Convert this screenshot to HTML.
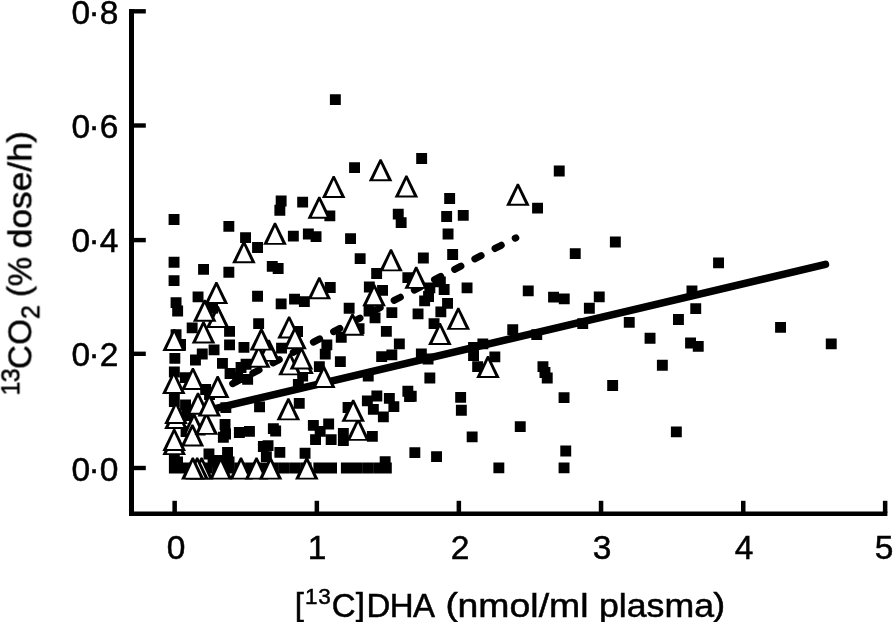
<!DOCTYPE html>
<html><head><meta charset="utf-8"><title>chart</title>
<style>
html,body{margin:0;padding:0;background:#fff;}
body{width:893px;height:622px;overflow:hidden;position:relative;font-family:"Liberation Sans",sans-serif;color:#000;}
svg{position:absolute;left:0;top:0;}
.t{position:absolute;white-space:nowrap;line-height:1;font-size:33.5px;will-change:transform;-webkit-text-stroke:0.5px #000;}
.yl{left:0;width:117.5px;text-align:right;letter-spacing:-0.8px;}
.xl{width:60px;text-align:center;}
sup,sub{font-size:22.5px;line-height:0;}
.br{font-size:30.5px;position:relative;top:-2.3px;display:inline-block;transform:scaleX(1.08);}
.dt{position:relative;left:-0.8px;top:-1px;}
</style></head><body>
<svg width="893" height="622" viewBox="0 0 893 622" shape-rendering="geometricPrecision">
<line x1="215" y1="408.6" x2="825.4" y2="264.4" stroke="#000" stroke-width="7.6" stroke-linecap="round"/>
<line x1="232.7" y1="383.6" x2="515.8" y2="237.8" stroke="#000" stroke-width="7" stroke-linecap="round" stroke-dasharray="7 15.7"/>
<path d="M168.6 214.1h10.9v10.9h-10.9zM223.4 220.9h10.9v10.9h-10.9zM240.1 232.2h10.9v10.9h-10.9zM252.1 242.0h10.9v10.9h-10.9zM275.7 195.6h10.9v10.9h-10.9zM274.4 204.8h10.9v10.9h-10.9zM297.2 196.7h10.9v10.9h-10.9zM287.9 230.7h10.9v10.9h-10.9zM302.9 228.6h10.9v10.9h-10.9zM168.6 256.8h10.9v10.9h-10.9zM168.6 275.2h10.9v10.9h-10.9zM198.1 263.9h10.9v10.9h-10.9zM223.4 266.8h10.9v10.9h-10.9zM266.8 260.9h10.9v10.9h-10.9zM272.7 263.1h10.9v10.9h-10.9zM192.6 291.4h10.9v10.9h-10.9zM252.1 290.8h10.9v10.9h-10.9zM289.1 293.7h10.9v10.9h-10.9zM329.9 94.2h10.9v10.9h-10.9zM349.1 162.2h10.9v10.9h-10.9zM416.2 153.0h10.9v10.9h-10.9zM553.8 165.6h10.9v10.9h-10.9zM532.1 202.7h10.9v10.9h-10.9zM457.8 209.9h10.9v10.9h-10.9zM609.9 236.6h10.9v10.9h-10.9zM569.8 248.2h10.9v10.9h-10.9zM713.1 257.4h10.9v10.9h-10.9zM461.6 282.4h10.9v10.9h-10.9zM522.8 285.4h10.9v10.9h-10.9zM548.1 291.7h10.9v10.9h-10.9zM558.8 293.4h10.9v10.9h-10.9zM593.8 291.4h10.9v10.9h-10.9zM686.5 285.6h10.9v10.9h-10.9zM324.4 210.4h10.9v10.9h-10.9zM392.8 208.7h10.9v10.9h-10.9zM395.7 217.2h10.9v10.9h-10.9zM444.2 193.0h10.9v10.9h-10.9zM441.2 211.1h10.9v10.9h-10.9zM442.6 228.5h10.9v10.9h-10.9zM447.2 249.1h10.9v10.9h-10.9zM310.6 231.2h10.9v10.9h-10.9zM345.1 233.2h10.9v10.9h-10.9zM354.7 253.2h10.9v10.9h-10.9zM417.9 252.6h10.9v10.9h-10.9zM371.2 268.1h10.9v10.9h-10.9zM402.4 272.2h10.9v10.9h-10.9zM324.8 282.1h10.9v10.9h-10.9zM363.9 281.6h10.9v10.9h-10.9zM377.1 284.9h10.9v10.9h-10.9zM438.7 284.1h10.9v10.9h-10.9zM424.4 282.4h10.9v10.9h-10.9zM434.9 276.4h10.9v10.9h-10.9zM423.1 291.1h10.9v10.9h-10.9zM170.6 297.2h10.9v10.9h-10.9zM172.2 305.6h10.9v10.9h-10.9zM275.7 298.4h10.9v10.9h-10.9zM298.9 296.2h10.9v10.9h-10.9zM253.2 318.2h10.9v10.9h-10.9zM186.7 322.4h10.9v10.9h-10.9zM224.1 325.9h10.9v10.9h-10.9zM170.6 329.2h10.9v10.9h-10.9zM224.1 339.4h10.9v10.9h-10.9zM238.5 341.9h10.9v10.9h-10.9zM208.6 344.4h10.9v10.9h-10.9zM196.8 348.6h10.9v10.9h-10.9zM190.0 354.6h10.9v10.9h-10.9zM169.4 352.9h10.9v10.9h-10.9zM217.0 357.9h10.9v10.9h-10.9zM276.1 342.7h10.9v10.9h-10.9zM224.6 368.1h10.9v10.9h-10.9zM235.6 362.1h10.9v10.9h-10.9zM240.6 358.8h10.9v10.9h-10.9zM242.2 373.9h10.9v10.9h-10.9zM232.2 372.2h10.9v10.9h-10.9zM168.9 366.6h10.9v10.9h-10.9zM175.1 339.1h10.9v10.9h-10.9zM179.9 372.2h10.9v10.9h-10.9zM200.2 384.1h10.9v10.9h-10.9zM168.9 391.6h10.9v10.9h-10.9zM204.1 389.1h10.9v10.9h-10.9zM292.1 326.1h10.9v10.9h-10.9zM297.2 370.6h10.9v10.9h-10.9zM292.9 378.9h10.9v10.9h-10.9zM343.7 302.8h10.9v10.9h-10.9zM386.4 307.2h10.9v10.9h-10.9zM369.6 312.4h10.9v10.9h-10.9zM363.6 305.6h10.9v10.9h-10.9zM412.6 308.4h10.9v10.9h-10.9zM419.2 295.4h10.9v10.9h-10.9zM442.1 297.9h10.9v10.9h-10.9zM435.4 306.4h10.9v10.9h-10.9zM428.6 318.2h10.9v10.9h-10.9zM380.9 325.9h10.9v10.9h-10.9zM393.9 338.4h10.9v10.9h-10.9zM335.8 331.8h10.9v10.9h-10.9zM353.6 323.2h10.9v10.9h-10.9zM321.4 339.4h10.9v10.9h-10.9zM319.8 348.7h10.9v10.9h-10.9zM334.9 356.2h10.9v10.9h-10.9zM376.2 351.2h10.9v10.9h-10.9zM386.4 349.4h10.9v10.9h-10.9zM415.9 348.6h10.9v10.9h-10.9zM422.6 353.6h10.9v10.9h-10.9zM313.9 361.2h10.9v10.9h-10.9zM362.8 370.6h10.9v10.9h-10.9zM424.4 372.6h10.9v10.9h-10.9zM402.4 385.8h10.9v10.9h-10.9zM405.8 390.8h10.9v10.9h-10.9zM168.9 396.2h10.9v10.9h-10.9zM254.1 401.4h10.9v10.9h-10.9zM293.8 397.9h10.9v10.9h-10.9zM220.4 402.2h10.9v10.9h-10.9zM219.6 419.1h10.9v10.9h-10.9zM217.9 431.8h10.9v10.9h-10.9zM233.9 427.1h10.9v10.9h-10.9zM244.0 425.9h10.9v10.9h-10.9zM270.2 425.6h10.9v10.9h-10.9zM267.9 423.2h10.9v10.9h-10.9zM257.9 441.1h10.9v10.9h-10.9zM262.6 440.2h10.9v10.9h-10.9zM222.1 446.9h10.9v10.9h-10.9zM203.5 448.6h10.9v10.9h-10.9zM274.4 446.9h10.9v10.9h-10.9zM260.9 451.2h10.9v10.9h-10.9zM299.6 447.8h10.9v10.9h-10.9zM168.9 453.1h10.9v10.9h-10.9zM172.1 456.6h10.9v10.9h-10.9zM180.1 399.6h10.9v10.9h-10.9zM181.6 410.1h10.9v10.9h-10.9zM180.6 426.1h10.9v10.9h-10.9zM207.6 456.1h10.9v10.9h-10.9zM213.6 455.1h10.9v10.9h-10.9zM223.6 456.6h10.9v10.9h-10.9zM220.1 428.6h10.9v10.9h-10.9zM168.9 462.6h10.9v10.9h-10.9zM179.6 462.6h10.9v10.9h-10.9zM190.6 462.6h10.9v10.9h-10.9zM201.6 462.6h10.9v10.9h-10.9zM212.6 462.6h10.9v10.9h-10.9zM223.6 462.6h10.9v10.9h-10.9zM234.6 462.6h10.9v10.9h-10.9zM245.6 462.6h10.9v10.9h-10.9zM256.6 462.6h10.9v10.9h-10.9zM267.6 462.6h10.9v10.9h-10.9zM278.6 462.6h10.9v10.9h-10.9zM289.6 462.6h10.9v10.9h-10.9zM300.6 462.6h10.9v10.9h-10.9zM313.4 462.6h10.9v10.9h-10.9zM320.6 462.6h10.9v10.9h-10.9zM326.1 462.6h10.9v10.9h-10.9zM340.9 462.6h10.9v10.9h-10.9zM351.6 462.6h10.9v10.9h-10.9zM362.6 462.6h10.9v10.9h-10.9zM373.6 462.6h10.9v10.9h-10.9zM380.9 462.6h10.9v10.9h-10.9zM361.9 395.4h10.9v10.9h-10.9zM371.4 390.6h10.9v10.9h-10.9zM342.6 402.1h10.9v10.9h-10.9zM367.9 403.9h10.9v10.9h-10.9zM377.9 411.4h10.9v10.9h-10.9zM388.4 401.2h10.9v10.9h-10.9zM383.9 392.9h10.9v10.9h-10.9zM404.1 391.2h10.9v10.9h-10.9zM307.9 419.9h10.9v10.9h-10.9zM323.2 418.6h10.9v10.9h-10.9zM314.7 425.9h10.9v10.9h-10.9zM310.1 434.2h10.9v10.9h-10.9zM325.7 434.2h10.9v10.9h-10.9zM337.9 428.1h10.9v10.9h-10.9zM337.9 435.1h10.9v10.9h-10.9zM366.9 430.9h10.9v10.9h-10.9zM409.4 447.2h10.9v10.9h-10.9zM431.1 451.2h10.9v10.9h-10.9zM379.7 456.2h10.9v10.9h-10.9zM507.3 324.2h10.9v10.9h-10.9zM477.4 338.4h10.9v10.9h-10.9zM468.1 341.9h10.9v10.9h-10.9zM468.1 350.2h10.9v10.9h-10.9zM489.4 351.4h10.9v10.9h-10.9zM472.2 361.2h10.9v10.9h-10.9zM531.3 329.2h10.9v10.9h-10.9zM577.3 318.2h10.9v10.9h-10.9zM583.9 302.8h10.9v10.9h-10.9zM537.5 361.2h10.9v10.9h-10.9zM539.5 367.1h10.9v10.9h-10.9zM541.8 372.6h10.9v10.9h-10.9zM558.6 392.2h10.9v10.9h-10.9zM455.2 391.9h10.9v10.9h-10.9zM455.9 404.8h10.9v10.9h-10.9zM466.7 431.4h10.9v10.9h-10.9zM514.8 421.2h10.9v10.9h-10.9zM560.3 445.6h10.9v10.9h-10.9zM558.6 462.4h10.9v10.9h-10.9zM493.4 462.4h10.9v10.9h-10.9zM690.3 303.2h10.9v10.9h-10.9zM673.0 314.1h10.9v10.9h-10.9zM623.8 316.9h10.9v10.9h-10.9zM644.6 332.8h10.9v10.9h-10.9zM685.1 337.6h10.9v10.9h-10.9zM692.8 340.9h10.9v10.9h-10.9zM656.9 359.8h10.9v10.9h-10.9zM607.2 380.1h10.9v10.9h-10.9zM775.1 321.9h10.9v10.9h-10.9zM825.8 338.4h10.9v10.9h-10.9zM670.9 426.4h10.9v10.9h-10.9z" fill="#000"/>
<polygon points="200.60,457.60 202.60,457.60 213.40,479.60 189.80,479.60" fill="#000"/><polygon points="201.60,461.80 209.00,477.70 194.20,477.70" fill="#fff"/>
<polygon points="196.20,457.60 198.20,457.60 209.00,479.60 185.40,479.60" fill="#000"/><polygon points="197.20,461.80 204.60,477.70 189.80,477.70" fill="#fff"/>
<polygon points="191.80,457.60 193.80,457.60 204.60,479.60 181.00,479.60" fill="#000"/><polygon points="192.80,461.80 200.20,477.70 185.40,477.70" fill="#fff"/>
<polygon points="219.70,457.60 221.70,457.60 232.50,479.60 208.90,479.60" fill="#000"/><polygon points="220.70,461.80 228.10,477.70 213.30,477.70" fill="#fff"/>
<polygon points="240.00,457.60 242.00,457.60 252.80,479.60 229.20,479.60" fill="#000"/><polygon points="241.00,461.80 248.40,477.70 233.60,477.70" fill="#fff"/>
<polygon points="255.50,457.60 257.50,457.60 268.30,479.60 244.70,479.60" fill="#000"/><polygon points="256.50,461.80 263.90,477.70 249.10,477.70" fill="#fff"/>
<polygon points="269.50,457.60 271.50,457.60 282.30,479.60 258.70,479.60" fill="#000"/><polygon points="270.50,461.80 277.90,477.70 263.10,477.70" fill="#fff"/>
<polygon points="305.80,457.60 307.80,457.60 318.60,479.60 295.00,479.60" fill="#000"/><polygon points="306.80,461.80 314.20,477.70 299.40,477.70" fill="#fff"/>
<polygon points="193.00,413.50 195.00,413.50 205.80,435.50 182.20,435.50" fill="#000"/><polygon points="194.00,417.70 201.40,433.60 186.60,433.60" fill="#fff"/>
<polygon points="173.20,433.10 175.20,433.10 186.00,455.10 162.40,455.10" fill="#000"/><polygon points="174.20,437.30 181.60,453.20 166.80,453.20" fill="#fff"/>
<polygon points="173.20,428.90 175.20,428.90 186.00,450.90 162.40,450.90" fill="#000"/><polygon points="174.20,433.10 181.60,449.00 166.80,449.00" fill="#fff"/>
<polygon points="191.40,424.50 193.40,424.50 204.20,446.50 180.60,446.50" fill="#000"/><polygon points="192.40,428.70 199.80,444.60 185.00,444.60" fill="#fff"/>
<polygon points="357.10,418.80 359.10,418.80 369.90,440.80 346.30,440.80" fill="#000"/><polygon points="358.10,423.00 365.50,438.90 350.70,438.90" fill="#fff"/>
<polygon points="197.00,392.70 199.00,392.70 209.80,414.70 186.20,414.70" fill="#000"/><polygon points="198.00,396.90 205.40,412.80 190.60,412.80" fill="#fff"/>
<polygon points="205.40,412.80 207.40,412.80 218.20,434.80 194.60,434.80" fill="#000"/><polygon points="206.40,417.00 213.80,432.90 199.00,432.90" fill="#fff"/>
<polygon points="175.00,406.90 177.00,406.90 187.80,428.90 164.20,428.90" fill="#000"/><polygon points="176.00,411.10 183.40,427.00 168.60,427.00" fill="#fff"/>
<polygon points="175.00,401.90 177.00,401.90 187.80,423.90 164.20,423.90" fill="#000"/><polygon points="176.00,406.10 183.40,422.00 168.60,422.00" fill="#fff"/>
<polygon points="352.20,399.70 354.20,399.70 365.00,421.70 341.40,421.70" fill="#000"/><polygon points="353.20,403.90 360.60,419.80 345.80,419.80" fill="#fff"/>
<polygon points="287.40,398.30 289.40,398.30 300.20,420.30 276.60,420.30" fill="#000"/><polygon points="288.40,402.50 295.80,418.40 281.00,418.40" fill="#fff"/>
<polygon points="208.30,394.40 210.30,394.40 221.10,416.40 197.50,416.40" fill="#000"/><polygon points="209.30,398.60 216.70,414.50 201.90,414.50" fill="#fff"/>
<polygon points="216.70,376.00 218.70,376.00 229.50,398.00 205.90,398.00" fill="#000"/><polygon points="217.70,380.20 225.10,396.10 210.30,396.10" fill="#fff"/>
<polygon points="172.80,371.90 174.80,371.90 185.60,393.90 162.00,393.90" fill="#000"/><polygon points="173.80,376.10 181.20,392.00 166.40,392.00" fill="#fff"/>
<polygon points="191.90,367.90 193.90,367.90 204.70,389.90 181.10,389.90" fill="#000"/><polygon points="192.90,372.10 200.30,388.00 185.50,388.00" fill="#fff"/>
<polygon points="322.80,366.00 324.80,366.00 335.60,388.00 312.00,388.00" fill="#000"/><polygon points="323.80,370.20 331.20,386.10 316.40,386.10" fill="#fff"/>
<polygon points="487.00,356.00 489.00,356.00 499.80,378.00 476.20,378.00" fill="#000"/><polygon points="488.00,360.20 495.40,376.10 480.60,376.10" fill="#fff"/>
<polygon points="301.00,352.00 303.00,352.00 313.80,374.00 290.20,374.00" fill="#000"/><polygon points="302.00,356.20 309.40,372.10 294.60,372.10" fill="#fff"/>
<polygon points="289.00,353.30 291.00,353.30 301.80,375.30 278.20,375.30" fill="#000"/><polygon points="290.00,357.50 297.40,373.40 282.60,373.40" fill="#fff"/>
<polygon points="300.40,347.40 302.40,347.40 313.20,369.40 289.60,369.40" fill="#000"/><polygon points="301.40,351.60 308.80,367.50 294.00,367.50" fill="#fff"/>
<polygon points="267.80,339.80 269.80,339.80 280.60,361.80 257.00,361.80" fill="#000"/><polygon points="268.80,344.00 276.20,359.90 261.40,359.90" fill="#fff"/>
<polygon points="257.70,345.70 259.70,345.70 270.50,367.70 246.90,367.70" fill="#000"/><polygon points="258.70,349.90 266.10,365.80 251.30,365.80" fill="#fff"/>
<polygon points="173.20,328.90 175.20,328.90 186.00,350.90 162.40,350.90" fill="#000"/><polygon points="174.20,333.10 181.60,349.00 166.80,349.00" fill="#fff"/>
<polygon points="260.40,328.60 262.40,328.60 273.20,350.60 249.60,350.60" fill="#000"/><polygon points="261.40,332.80 268.80,348.70 254.00,348.70" fill="#fff"/>
<polygon points="438.90,323.00 440.90,323.00 451.70,345.00 428.10,345.00" fill="#000"/><polygon points="439.90,327.20 447.30,343.10 432.50,343.10" fill="#fff"/>
<polygon points="202.50,321.50 204.50,321.50 215.30,343.50 191.70,343.50" fill="#000"/><polygon points="203.50,325.70 210.90,341.60 196.10,341.60" fill="#fff"/>
<polygon points="288.10,316.40 290.10,316.40 300.90,338.40 277.30,338.40" fill="#000"/><polygon points="289.10,320.60 296.50,336.50 281.70,336.50" fill="#fff"/>
<polygon points="294.00,327.20 296.00,327.20 306.80,349.20 283.20,349.20" fill="#000"/><polygon points="295.00,331.40 302.40,347.30 287.60,347.30" fill="#fff"/>
<polygon points="351.50,313.70 353.50,313.70 364.30,335.70 340.70,335.70" fill="#000"/><polygon points="352.50,317.90 359.90,333.80 345.10,333.80" fill="#fff"/>
<polygon points="457.30,307.80 459.30,307.80 470.10,329.80 446.50,329.80" fill="#000"/><polygon points="458.30,312.00 465.70,327.90 450.90,327.90" fill="#fff"/>
<polygon points="216.70,306.00 218.70,306.00 229.50,328.00 205.90,328.00" fill="#000"/><polygon points="217.70,310.20 225.10,326.10 210.30,326.10" fill="#fff"/>
<rect x="207.2" y="302.7" width="10.9" height="10.9" fill="#000"/>
<polygon points="203.70,299.70 205.70,299.70 216.50,321.70 192.90,321.70" fill="#000"/><polygon points="204.70,303.90 212.10,319.80 197.30,319.80" fill="#fff"/>
<polygon points="373.10,284.20 375.10,284.20 385.90,306.20 362.30,306.20" fill="#000"/><polygon points="374.10,288.40 381.50,304.30 366.70,304.30" fill="#fff"/>
<polygon points="215.40,282.00 217.40,282.00 228.20,304.00 204.60,304.00" fill="#000"/><polygon points="216.40,286.20 223.80,302.10 209.00,302.10" fill="#fff"/>
<polygon points="318.30,277.20 320.30,277.20 331.10,299.20 307.50,299.20" fill="#000"/><polygon points="319.30,281.40 326.70,297.30 311.90,297.30" fill="#fff"/>
<polygon points="415.20,266.80 417.20,266.80 428.00,288.80 404.40,288.80" fill="#000"/><polygon points="416.20,271.00 423.60,286.90 408.80,286.90" fill="#fff"/>
<polygon points="390.00,249.30 392.00,249.30 402.80,271.30 379.20,271.30" fill="#000"/><polygon points="391.00,253.50 398.40,269.40 383.60,269.40" fill="#fff"/>
<polygon points="242.90,241.20 244.90,241.20 255.70,263.20 232.10,263.20" fill="#000"/><polygon points="243.90,245.40 251.30,261.30 236.50,261.30" fill="#fff"/>
<polygon points="274.00,222.80 276.00,222.80 286.80,244.80 263.20,244.80" fill="#000"/><polygon points="275.00,227.00 282.40,242.90 267.60,242.90" fill="#fff"/>
<polygon points="318.30,196.70 320.30,196.70 331.10,218.70 307.50,218.70" fill="#000"/><polygon points="319.30,200.90 326.70,216.80 311.90,216.80" fill="#fff"/>
<polygon points="516.90,183.70 518.90,183.70 529.70,205.70 506.10,205.70" fill="#000"/><polygon points="517.90,187.90 525.30,203.80 510.50,203.80" fill="#fff"/>
<polygon points="332.70,175.90 334.70,175.90 345.50,197.90 321.90,197.90" fill="#000"/><polygon points="333.70,180.10 341.10,196.00 326.30,196.00" fill="#fff"/>
<polygon points="405.40,175.50 407.40,175.50 418.20,197.50 394.60,197.50" fill="#000"/><polygon points="406.40,179.70 413.80,195.60 399.00,195.60" fill="#fff"/>
<polygon points="379.60,159.20 381.60,159.20 392.40,181.20 368.80,181.20" fill="#000"/><polygon points="380.60,163.40 388.00,179.30 373.20,179.30" fill="#fff"/>
<rect x="129" y="9.1" width="5" height="506.9" fill="#000"/>
<rect x="129" y="511.5" width="758.4" height="4.5" fill="#000"/>
<rect x="129" y="9.1" width="16.8" height="4.4" fill="#000"/>
<rect x="129" y="123.3" width="16.8" height="4.4" fill="#000"/>
<rect x="129" y="237.9" width="16.8" height="4.4" fill="#000"/>
<rect x="129" y="351.6" width="16.8" height="4.4" fill="#000"/>
<rect x="129" y="465.8" width="16.8" height="4.4" fill="#000"/>
<rect x="172.4" y="500.8" width="4.5" height="12" fill="#000"/>
<rect x="314.6" y="500.8" width="4.5" height="12" fill="#000"/>
<rect x="456.6" y="500.8" width="4.5" height="12" fill="#000"/>
<rect x="598.8" y="500.8" width="4.5" height="12" fill="#000"/>
<rect x="741.0" y="500.8" width="4.5" height="12" fill="#000"/>
<rect x="882.9" y="500.8" width="4.5" height="12" fill="#000"/>
</svg>
<div class="t yl" style="top:-4.1px">0<span class="dt">·</span>8</div>
<div class="t yl" style="top:110.1px">0<span class="dt">·</span>6</div>
<div class="t yl" style="top:224.3px">0<span class="dt">·</span>4</div>
<div class="t yl" style="top:338.4px">0<span class="dt">·</span>2</div>
<div class="t yl" style="top:452.6px">0<span class="dt">·</span>0</div>
<div class="t xl" style="left:145.5px;top:531px">0</div>
<div class="t xl" style="left:287.3px;top:531px">1</div>
<div class="t xl" style="left:429.5px;top:531px">2</div>
<div class="t xl" style="left:571.5px;top:531px">3</div>
<div class="t xl" style="left:713.5px;top:531px">4</div>
<div class="t xl" style="left:854.2px;top:531px">5</div>
<div class="t" id="xt" style="left:295px;top:589px;font-size:33px;letter-spacing:0.6px;will-change:transform"><span class="br" style="margin-right:1.0px">[</span><sup style="position:relative;top:-13px;vertical-align:baseline">13</sup><span style="margin-left:0.5px">C</span><span class="br" style="margin-right:1.2px">]</span><span style="letter-spacing:-0.6px">DHA</span></div>
<div class="t" id="xt2" style="left:445.6px;top:589px;font-size:33px;transform-origin:0 0;transform:scaleX(1.134)"><span class="br">(</span>nmol/ml</div>
<div class="t" id="xt3" style="left:599.3px;top:589px;font-size:33px;transform-origin:0 0;transform:scaleX(1.081)">plasma<span class="br">)</span></div>
<div class="t" id="yt" style="left:0;top:0;font-size:33px;letter-spacing:0.2px;transform-origin:0 0;transform:translate(3.4px,395.5px) rotate(-90deg)"><sup style="position:relative;top:-12.2px;vertical-align:baseline;font-size:25px;letter-spacing:-0.6px">13</sup>CO<sub style="position:relative;top:7.8px;vertical-align:baseline;font-size:25px;letter-spacing:-1px">2</sub> <span class="br">(</span>%</div>
<div class="t" id="yt2" style="left:0;top:0;font-size:33px;transform-origin:0 0;transform:translate(3.4px,248.3px) rotate(-90deg) scaleX(1.07)">dose/h<span class="br">)</span></div>
</body></html>
